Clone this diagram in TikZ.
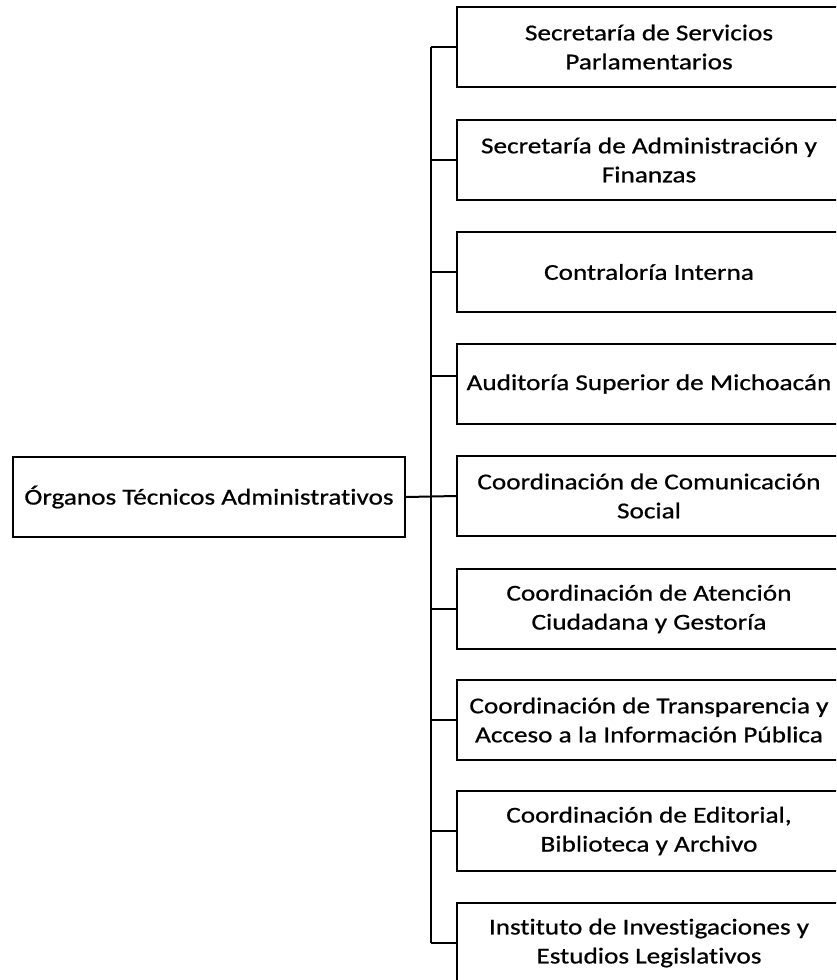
\documentclass[tikz,border=0pt]{standalone}
\usepackage{fontspec}
\setmainfont{Carlito}[FakeStretch=1.2,FakeBold=0.7,Ligatures=NoCommon]
\begin{document}
\begin{tikzpicture}[x=1pt,y=-1pt,
  box/.style={draw, line width=2pt, minimum width=384pt, minimum height=80pt,
    anchor=west, align=center, inner sep=0pt, text=black,
    font=\fontsize{22.7}{29}\selectfont},
  rootbox/.style={draw, line width=2pt, minimum width=392pt, minimum height=80pt,
    align=center, inner sep=0pt, text=black,
    font=\fontsize{22.7}{29}\selectfont},
  link/.style={line width=2pt}]
\useasboundingbox (0,0) rectangle (836,980);
\clip (0,0) rectangle (836,980);
\fill[white] (0,0) rectangle (836,980);

\node[rootbox] (root) at (209,497) {Órganos Técnicos Administrativos};

\node[box] (b1) at (456,47)  {Secretaría de Servicios\\Parlamentarios};
\node[box] (b2) at (456,160) {Secretaría de Administración y\\Finanzas};
\node[box] (b3) at (456,272) {Contraloría Interna};
\node[box] (b4) at (456,384) {Auditoría Superior de Michoacán};
\node[box] (b5) at (456,496) {Coordinación de Comunicación\\Social};
\node[box] (b6) at (456,609) {Coordinación de Atención\\Ciudadana y Gestoría};
\node[box] (b7) at (456,720) {Coordinación de Transparencia y\\Acceso a la Información Pública};
\node[box] (b8) at (456,831) {Coordinación de Editorial,\\Biblioteca y Archivo};
\node[box] (b9) at (456,943) {Instituto de Investigaciones y\\Estudios Legislativos};

\coordinate (top) at (431,47);
\coordinate (bot) at (431,943);
\draw[link] (top) -- (bot);
\draw[link] (root.east) -- (b5.west);
\foreach \b in {b1,b2,b3,b6,b7,b8,b9}
  \draw[link] (top |- \b.west) -- (\b.west);
\draw[link] ([yshift=8pt]top |- b4.west) -- ([yshift=8pt]b4.west);
\end{tikzpicture}
\end{document}
